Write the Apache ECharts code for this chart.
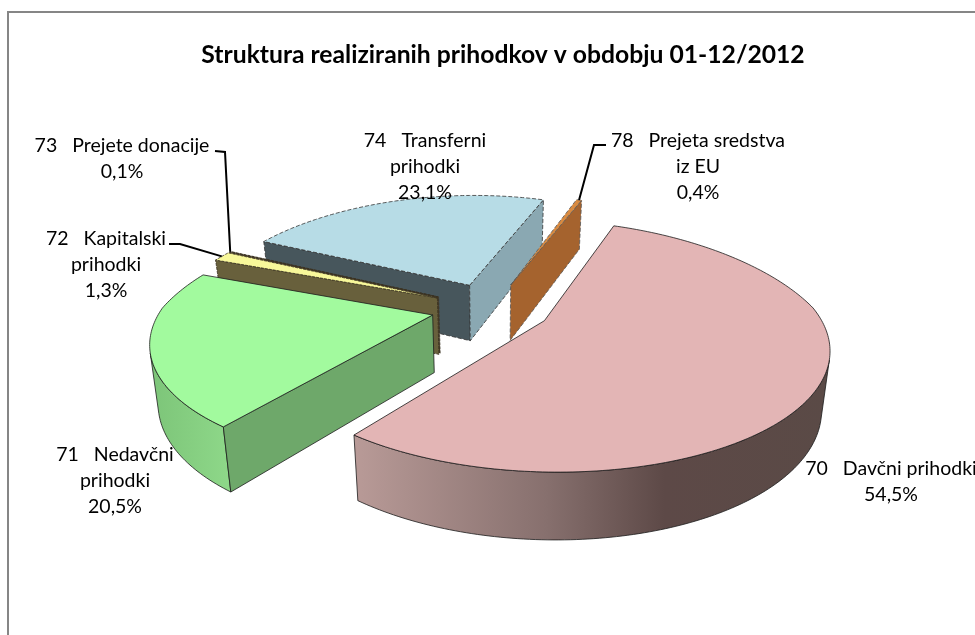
<!DOCTYPE html>
<html>
<head>
<meta charset="utf-8">
<style>
  html, body { margin: 0; background: #fff; }
  #chart { width: 975px; height: 635px; }
</style>
<script src="https://cdn.jsdelivr.net/npm/echarts@6/dist/echarts.min.js"></script>
</head>
<body>
<div id="chart"></div>
<script>
const titleText = "Struktura realiziranih prihodkov v obdobju 01-12/2012"
const codes = ["70", "71", "72", "73", "74", "78"]
const names = ["Davčni prihodki", "Nedavčni\nprihodki", "Kapitalski\nprihodki", "Prejete donacije", "Transferni\nprihodki", "Prejeta sredstva\niz EU"]
const shares = [54.5, 20.5, 1.3, 0.1, 23.1, 0.4]

// Layout of the fake 3D pie, fitted against the picture
const cx = 491, cy = 308, radius = 263, thickness = 65, stretchX = 1.032
const cosT = 0.44, sinT = 0.9, focal = 1197
const startAngle = 21, explode = 58
const paintOrder = [5, 4, 3, 2, 0, 1] // back to front, per slice
const labelPos = [[891, 482], [115, 481], [106, 265], [122, 159], [425, 167], [698, 167]]
const leaderKnees = { 2: [[169, 244], [180, 244]], 3: [[215, 151], [225, 152]], 5: [[606, 145], [594, 145]] }

const pinkWall = { type: "linear", global: true, x: 357, y: 0, x2: 830, y2: 0, colorStops: [
  { offset: 0, color: "#b89a97" }, { offset: 0.4, color: "#87706e" },
  { offset: 0.65, color: "#5d4947" }, { offset: 1, color: "#5a4a46" }] }
const greenWall = { type: "linear", global: true, x: 148, y: 0, x2: 230, y2: 0, colorStops: [
  { offset: 0, color: "#7cc478" }, { offset: 1, color: "#8ed889" }] }
const sliceStyles = [
  { top: "#e3b5b5", near: "#5d4947", far: "#5d4947", rim: pinkWall, stroke: "#1c1c1c" },
  { top: "#a2fa9e", near: "#6ea86a", far: "#6ea86a", rim: greenWall, stroke: "#1c1c1c" },
  { top: "#f8f89a", near: "#68603c", far: "#68603c", rim: "#68603c", stroke: "#3a3222", dash: [3, 1] },
  { top: "#4a3c28", near: "#4a3c28", far: "#4a3c28", rim: "#4a3c28", stroke: "#3a3222", dash: [3, 1] },
  { top: "#b7dce6", near: "#47565c", far: "#8aa8b2", rim: "#8aa8b2", stroke: "#333", dash: [4, 2] },
  { top: "#d98a40", near: "#a5632e", far: "#a5632e", rim: "#a5632e", stroke: "#555", dash: [4, 2] }
]

const total = shares.reduce((a, b) => a + b, 0)
const toRad = d => d * Math.PI / 180
const cam = [0, focal * sinT]

function project(x, y, z) {
  const s = 1 / (1 - (y * sinT - z * cosT) / focal)
  // the far half narrows a bit faster in x than plain perspective
  const sx = s < 1 ? Math.pow(s, 1.3) : s
  return [cx + stretchX * x * sx, cy + (y * cosT + z * sinT) * s]
}

function renderSlice(params, api) {
  const i = api.value(0)
  const before = shares.slice(0, i).reduce((a, b) => a + b, 0)
  const a1 = startAngle + before / total * 360
  const a2 = a1 + api.value(1) / total * 360
  const mid = toRad((a1 + a2) / 2)
  const ox = explode * Math.sin(mid), oy = -explode * Math.cos(mid)
  const rimAt = (deg, z) => project(ox + radius * Math.sin(toRad(deg)), oy - radius * Math.cos(toRad(deg)), z)
  const style = sliceStyles[i]
  const base = paintOrder[i] * 10

  const angles = []
  const steps = Math.max(2, Math.ceil(a2 - a1))
  for (let k = 0; k <= steps; k++) angles.push(a1 + (a2 - a1) * k / steps)

  const face = (points, fill, z2) => ({
    type: "polygon", z2, silent: true,
    shape: { points },
    style: { fill, stroke: style.stroke, lineWidth: 0.8, lineDash: style.dash || null, lineJoin: "round" }
  })
  const faces = []
  const toCam = [cam[0] - ox, cam[1] - oy]

  // radial cut walls, only the ones facing the camera
  const cut = (deg, sign, fill) => {
    const r = toRad(deg)
    const n = [sign * Math.cos(r), sign * Math.sin(r)]
    if (n[0] * toCam[0] + n[1] * toCam[1] <= 0) return
    faces.push(face([project(ox, oy, 0), rimAt(deg, 0), rimAt(deg, thickness), project(ox, oy, thickness)], fill, base + 2))
  }
  cut(a1, -1, style.near)
  cut(a2, 1, style.far)

  // outer wall
  const seen = angles.filter(deg => {
    const r = toRad(deg)
    const px = ox + radius * Math.sin(r), py = oy - radius * Math.cos(r)
    return Math.sin(r) * (cam[0] - px) - Math.cos(r) * (cam[1] - py) > 0
  })
  if (seen.length > 1) {
    const pts = seen.map(d => rimAt(d, 0)).concat(seen.slice().reverse().map(d => rimAt(d, thickness)))
    faces.push(face(pts, style.rim, base + 1))
  }

  // top
  faces.push(face([project(ox, oy, 0)].concat(angles.map(d => rimAt(d, 0))), style.top, base + 3))

  // leader line
  if (leaderKnees[i]) {
    faces.push({
      type: "polyline", z2: 200, silent: true,
      shape: { points: leaderKnees[i].concat([rimAt((a1 + a2) / 2, 0)]) },
      style: { fill: null, stroke: "#000", lineWidth: 2 }
    })
  }
  return { type: "group", children: faces }
}

const labelText = i => {
  const parts = names[i].split("\n")
  parts[0] = codes[i] + "   " + parts[0]
  return parts.join("\n") + "\n" + String(shares[i]).replace(".", ",") + "%"
}

const chart = echarts.init(document.getElementById("chart"), null, { renderer: "canvas" })
chart.setOption({
  animation: false,
  backgroundColor: "#fff",
  title: {
    text: titleText, left: 498, top: 38, textAlign: "center",
    textStyle: { fontFamily: "Lato", fontSize: 24.7, fontWeight: "bold", color: "#000" }
  },
  graphic: [
    {
      type: "polyline", silent: true,
      shape: { points: [[8, 640], [8, 12], [980, 12]] },
      style: { fill: null, stroke: "#868686", lineWidth: 2 }
    }
  ].concat(codes.map((c, i) => ({
    type: "text", silent: true, z: 50,
    x: labelPos[i][0], y: labelPos[i][1],
    style: {
      text: labelText(i), fontFamily: "Lato", fontSize: 19.5, lineHeight: 26,
      fill: "#000", align: "center", verticalAlign: "middle"
    }
  }))),
  series: [{
    type: "custom",
    coordinateSystem: "none",
    silent: true,
    data: shares.map((v, i) => [i, v]),
    renderItem: renderSlice
  }]
})
</script>
</body>
</html>
